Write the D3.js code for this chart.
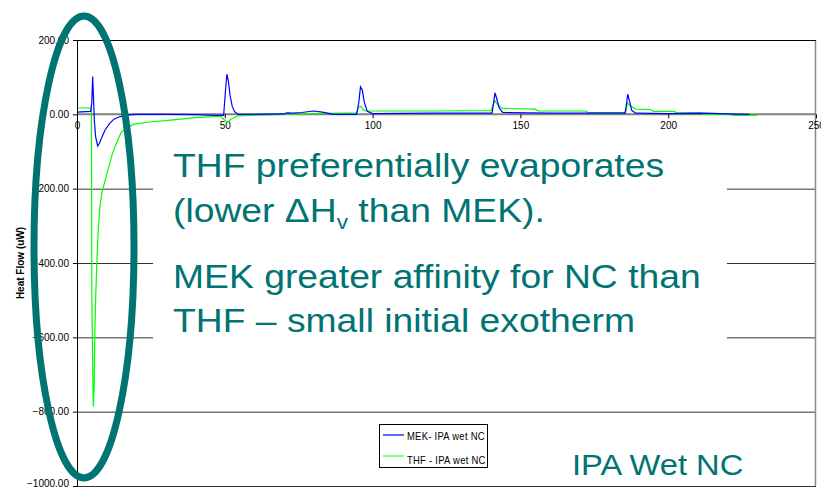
<!DOCTYPE html>
<html>
<head>
<meta charset="utf-8">
<script src="https://cdn.jsdelivr.net/npm/d3@7"></script>
<style>
  body { margin: 0; background: #fff; }
  svg { display: block; font-family: "Liberation Sans", Arial, sans-serif; }
</style>
</head>
<body>
<div id="chart"></div>
<script>
// data
var mekTime = [0, 4.6, 5.0, 5.3, 5.6, 5.9, 6.3, 7.0, 7.6, 8.5, 9.5, 11, 12.5, 14.5, 17, 20, 30, 40, 47, 49.6, 50.2, 50.7, 51.2, 51.8, 52.5, 53.3, 54.5, 60, 70, 71, 73, 76, 78, 80, 83, 85.5, 87, 94.6, 95.3, 95.9, 96.5, 97.2, 98.2, 100, 120, 140.4, 140.9, 141.4, 142.0, 142.8, 144, 160, 185.4, 185.9, 186.3, 186.9, 187.7, 189, 200, 212, 220, 227.5];
var mekFlow = [6, 8, 30, 102, 40, -20, -60, -85, -78, -60, -42, -25, -13, -6, -2, 0, 0, -1, -3, -3, 60, 108, 90, 50, 22, 7, 0, 0, 1, 4, 3, 5, 7, 9, 6, 2, 0, 0, 30, 74, 66, 32, 8, 2, 3, 3, 28, 58, 42, 18, 5, 3, 3, 28, 54, 36, 10, 3, 2, 3, 1, 0];

var thfTime = [0, 4.9, 5.0, 5.5, 5.8, 6.0, 6.3, 6.7, 7.2, 7.8, 8.4, 10.1, 12.0, 14.0, 15.0, 17, 19, 25, 30, 40, 48.5, 50.8, 52, 54.5, 60, 70, 80, 94.5, 95.3, 96.0, 96.8, 98, 120, 140.1, 140.7, 141.4, 142.5, 144, 155, 156, 172, 173, 185.6, 186.2, 187, 189, 194, 195, 202, 203, 211, 212, 221, 222, 230];
var thfFlow = [17, 17, -480, -786, -740, -600, -500, -400, -310, -247, -211, -160, -105, -65, -48, -36, -27, -20, -17, -9, -5, -22, -13, -4, -2, 0, 2, 4, 20, 22, 12, 9, 9, 10, 25, 36, 24, 16, 14, 9, 9, 5, 5, 31, 24, 14, 13, 8, 8, 4, 4, 0, 0, -3, -3];

var xTicks = [0, 50, 100, 150, 200, 250];
var yTicks = [200, 0, -200, -400, -600, -800, -1000];

var seriesNames = ["MEK- IPA wet NC", "THF - IPA wet NC"];
var seriesColors = ["#0000ff", "#00ff00"];

var noteLines1 = ["THF preferentially evaporates", "(lower \u0394H", "v", " than MEK)."];
var noteLines2 = ["MEK greater affinity for NC than", "THF \u2013 small initial exotherm"];
var cornerNote = "IPA Wet NC";

var teal = "#007373";

// set the dimensions and margins of the graph
var W = 821, H = 489;
var margin = {top: 40, right: 5, bottom: 3, left: 77},
    width = 816 - margin.left,
    height = 486 - margin.top;

var x = d3.scaleLinear().domain([0, 250]).range([0, width]);
var y = d3.scaleLinear().domain([-1000, 200]).range([height, 0]);

var svg0 = d3.select("#chart").append("svg")
    .attr("width", W)
    .attr("height", H);

var svg = svg0.append("g")
    .attr("transform", "translate(" + margin.left + "," + margin.top + ")");

svg.append("clipPath").attr("id", "clip")
  .append("rect").attr("width", width).attr("height", height);

// gridlines
svg.selectAll(".grid")
    .data(yTicks.filter(function(d) { return d != 0; }))
  .enter().append("line")
    .attr("class", "grid")
    .attr("x1", 0).attr("x2", width)
    .attr("y1", function(d) { return y(d) + 0.5; })
    .attr("y2", function(d) { return y(d) + 0.5; })
    .attr("stroke", "#333")
    .attr("stroke-width", 1);

// right border
svg.append("line")
    .attr("x1", width - 0.5).attr("x2", width - 0.5)
    .attr("y1", 0).attr("y2", height)
    .attr("stroke", "#888").attr("stroke-width", 1.5);

// y axis
var yAxis = svg.append("g")
    .attr("class", "y axis")
    .call(d3.axisLeft(y).tickValues(yTicks).tickSize(4).tickSizeOuter(0)
      .tickFormat(d3.format(".2f")));
yAxis.select(".domain").attr("stroke", "#000");
yAxis.selectAll("text").style("font-size", "10px").attr("fill", "#000").attr("x", -8);
// last label sits on the bottom edge, nudge it up a bit
yAxis.selectAll("text").filter(function(d) { return d == -1000; }).attr("dy", "0.05em");

// zero line
svg.append("line")
    .attr("x1", 0).attr("x2", width)
    .attr("y1", y(0)).attr("y2", y(0))
    .attr("stroke", "#808080").attr("stroke-width", 2);

// x axis sits on zero
var xAxis = svg.append("g")
    .attr("class", "x axis")
    .attr("transform", "translate(0," + y(0) + ")")
    .call(d3.axisBottom(x).tickValues(xTicks).tickSize(4).tickSizeOuter(0));
xAxis.select(".domain").remove();
xAxis.selectAll("line").attr("stroke", "#000");
xAxis.selectAll("text").style("font-size", "10px").attr("fill", "#000").attr("y", 8);

// lines
var line = d3.line()
    .x(function(d) { return x(d[0]); })
    .y(function(d) { return y(d[1]); });

var lines = svg.append("g").attr("clip-path", "url(#clip)");
lines.append("path")
    .datum(d3.zip(thfTime, thfFlow))
    .attr("fill", "none")
    .attr("stroke", seriesColors[1])
    .attr("stroke-width", 1.2)
    .attr("d", line);
lines.append("path")
    .datum(d3.zip(mekTime, mekFlow))
    .attr("fill", "none")
    .attr("stroke", seriesColors[0])
    .attr("stroke-width", 1.2)
    .attr("d", line);

// top and left border on top
svg.append("line")
    .attr("x1", 0).attr("x2", width).attr("y1", 0.5).attr("y2", 0.5)
    .attr("stroke", "#000");
svg.append("line")
    .attr("x1", 0.5).attr("x2", 0.5).attr("y1", 0).attr("y2", height)
    .attr("stroke", "#000");

// y label
svg0.append("text")
    .attr("transform", "translate(24,263) rotate(-90)")
    .attr("text-anchor", "middle")
    .style("font-size", "10px")
    .style("font-weight", "700")
    .text("Heat Flow (uW)");

// white note box
svg0.append("rect")
    .attr("x", 153).attr("y", 133)
    .attr("width", 574).attr("height", 212)
    .attr("fill", "#fff");

// note text is a little wider than plain Arial, stretch it
var notes = svg0.append("g")
    .attr("transform", "translate(173,0) scale(1.13,1)")
    .attr("fill", teal)
    .style("font-size", "33px");

notes.append("text").attr("x", 0).attr("y", 177).text(noteLines1[0]);

var t2 = notes.append("text").attr("x", 0).attr("y", 222);
t2.append("tspan").text(noteLines1[1]);
t2.append("tspan").attr("dy", 7).style("font-size", "20px").text(noteLines1[2]);
t2.append("tspan").attr("dy", -7).text(noteLines1[3]);

notes.selectAll(".note2")
    .data(noteLines2)
  .enter().append("text")
    .attr("class", "note2")
    .attr("x", 0)
    .attr("y", function(d, i) { return 288 + i * 44; })
    .text(function(d) { return d; });

svg0.append("text")
    .attr("transform", "translate(572,475) scale(1.09,1)")
    .attr("fill", teal)
    .style("font-size", "30px")
    .text(cornerNote);

// legend
var lg = svg0.append("g").attr("transform", "translate(379,424)");
lg.append("rect")
    .attr("x", 0.5).attr("y", 0.5)
    .attr("width", 108).attr("height", 43)
    .attr("fill", "#fff").attr("stroke", "#000");
seriesNames.forEach(function(n, i) {
  var yy = 11 + i * 21;
  lg.append("line")
      .attr("x1", 4).attr("x2", 25)
      .attr("y1", yy).attr("y2", yy)
      .attr("stroke", i == 0 ? "#6666ff" : seriesColors[1])
      .attr("stroke-width", i == 0 ? 2 : 1);
  lg.append("text")
      .attr("x", 28).attr("y", yy + 4)
      .attr("transform", "translate(28,0) scale(0.9,1.1) translate(-28,0)")
      .style("font-size", "10.5px")
      .style("letter-spacing", "0.3px")
      .text(n);
});

// ellipse highlight
svg0.append("ellipse")
    .attr("cx", 84).attr("cy", 247)
    .attr("rx", 50).attr("ry", 231)
    .attr("fill", "none")
    .attr("stroke", teal)
    .attr("stroke-width", 7);
</script>
</body>
</html>
